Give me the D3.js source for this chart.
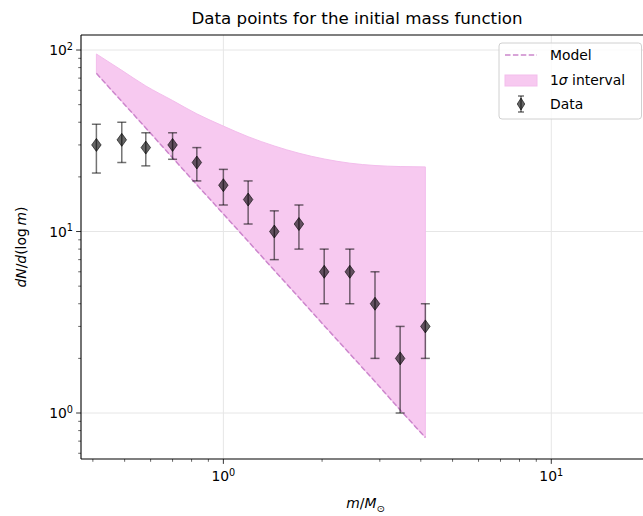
<!DOCTYPE html>
<html>
<head>
<meta charset="utf-8">
<script src="https://cdn.jsdelivr.net/npm/d3@7"></script>
<style>
  html, body { margin: 0; padding: 0; background: #fff; }
  svg { display: block; font-family: "DejaVu Sans", sans-serif; }
</style>
</head>
<body>
<svg id="chart" width="643" height="516"></svg>
<script>
// Stellar mass bins (solar masses)
const masses = [0.41, 0.49, 0.58, 0.70, 0.83, 1.00, 1.19, 1.43, 1.70, 2.03, 2.43, 2.90, 3.46, 4.13];
// Observed counts per log-mass bin and their uncertainties
const counts = [30, 32, 29, 30, 24, 18, 15, 10, 11, 6, 6, 4, 2, 3];
const countErrors = [9, 8, 6, 5, 5, 4, 4, 3, 3, 2, 2, 2, 1, 1];
// Power-law model evaluated at the bin masses
const model = [74.4, 52.1, 37.2, 25.5, 18.1, 12.5, 8.83, 6.11, 4.33, 3.03, 2.12, 1.49, 1.04, 0.733];
// Upper edge of the 1-sigma band (lower edge follows the model)
const bandUpper = [95.1, 77.3, 63.4, 52.7, 44.5, 38.1, 33.3, 29.6, 27.0, 25.1, 23.8, 23.1, 22.8, 22.7];
// Axis ticks
const xMajorTicks = [1, 10];
const yMajorTicks = [1, 10, 100];
const xTickLabels = ["0", "1"];
const yTickLabels = ["0", "1", "2"];

const svg = d3.select("#chart");
const plot = { left: 81, top: 35, right: 650, bottom: 459 };

const x = d3.scaleLog().domain([0.368, 20]).range([plot.left, plot.right]);
const y = d3.scaleLog().domain([0.558, 121]).range([plot.bottom, plot.top]);

const defs = svg.append("defs");
defs.append("clipPath").attr("id", "plotClip")
  .append("rect").attr("x", plot.left).attr("y", plot.top)
  .attr("width", plot.right - plot.left).attr("height", plot.bottom - plot.top);

// Grid
const grid = svg.append("g").attr("stroke", "#e6e6e6").attr("stroke-width", 1);
xMajorTicks.forEach(v => grid.append("line")
  .attr("x1", x(v)).attr("x2", x(v)).attr("y1", plot.top).attr("y2", plot.bottom));
yMajorTicks.forEach(v => grid.append("line")
  .attr("x1", plot.left).attr("x2", plot.right).attr("y1", y(v)).attr("y2", y(v)));

const body = svg.append("g").attr("clip-path", "url(#plotClip)");

// 1-sigma band
const area = d3.area()
  .x((d, i) => x(masses[i]))
  .y0((d, i) => y(model[i]))
  .y1((d, i) => y(bandUpper[i]))
  .curve(d3.curveMonotoneX);
body.append("path").datum(masses)
  .attr("d", area)
  .attr("fill", "#f7c9f0")
  .attr("stroke", "#f3bdec")
  .attr("stroke-width", 1);

// Model line
const line = d3.line().x((d, i) => x(masses[i])).y(d => y(d));
body.append("path").datum(model)
  .attr("d", line)
  .attr("fill", "none")
  .attr("stroke", "#cc86cc")
  .attr("stroke-width", 1.5)
  .attr("stroke-dasharray", "5.5,2.4");

// Error bars
const eb = body.append("g").attr("stroke", "#000").attr("stroke-opacity", 0.55).attr("stroke-width", 1.5);
masses.forEach((m, i) => {
  const cx = x(m);
  const lo = y(counts[i] - countErrors[i]);
  const hi = y(counts[i] + countErrors[i]);
  eb.append("line").attr("x1", cx).attr("x2", cx).attr("y1", lo).attr("y2", hi);
  eb.append("line").attr("x1", cx - 4.5).attr("x2", cx + 4.5).attr("y1", lo).attr("y2", lo);
  eb.append("line").attr("x1", cx - 4.5).attr("x2", cx + 4.5).attr("y1", hi).attr("y2", hi);
});

// Thin-diamond markers
function diamond(cx, cy, w, h) {
  return `M${cx},${cy - h / 2}L${cx + w / 2},${cy}L${cx},${cy + h / 2}L${cx - w / 2},${cy}Z`;
}
body.append("g").selectAll("path").data(masses).join("path")
  .attr("d", (m, i) => diamond(x(m), y(counts[i]), 9.5, 13))
  .attr("fill", "#000").attr("fill-opacity", 0.6)
  .attr("stroke", "#000").attr("stroke-opacity", 0.6).attr("stroke-width", 1);

// Axes spines (right edge lies outside the view)
const spine = svg.append("g").attr("stroke", "#000").attr("stroke-width", 1.1).attr("fill", "none");
spine.append("line").attr("x1", plot.left).attr("x2", plot.left).attr("y1", plot.top).attr("y2", plot.bottom);
spine.append("line").attr("x1", plot.left).attr("x2", plot.right).attr("y1", plot.bottom).attr("y2", plot.bottom);
spine.append("line").attr("x1", plot.left).attr("x2", plot.right).attr("y1", plot.top).attr("y2", plot.top);
spine.append("line").attr("x1", plot.right).attr("x2", plot.right).attr("y1", plot.top).attr("y2", plot.bottom);

// Ticks
function minorValues(scale) {
  const [a, b] = scale.domain();
  const out = [];
  for (let e = Math.floor(Math.log10(a)); e <= Math.ceil(Math.log10(b)); e++) {
    for (let k = 2; k <= 9; k++) {
      const v = k * Math.pow(10, e);
      if (v >= a && v <= b) out.push(v);
    }
  }
  return out;
}
const ticks = svg.append("g").attr("stroke", "#000").attr("stroke-width", 0.8);
xMajorTicks.forEach(v => ticks.append("line").attr("x1", x(v)).attr("x2", x(v))
  .attr("y1", plot.bottom).attr("y2", plot.bottom + 4.9));
minorValues(x).forEach(v => ticks.append("line").attr("x1", x(v)).attr("x2", x(v))
  .attr("y1", plot.bottom).attr("y2", plot.bottom + 2.8).attr("stroke-width", 0.6));
yMajorTicks.forEach(v => ticks.append("line").attr("y1", y(v)).attr("y2", y(v))
  .attr("x1", plot.left).attr("x2", plot.left - 4.9));
minorValues(y).forEach(v => ticks.append("line").attr("y1", y(v)).attr("y2", y(v))
  .attr("x1", plot.left).attr("x2", plot.left - 2.8).attr("stroke-width", 0.6));

// Tick labels as 10^n
const fs = 13.9;
function powLabel(g, exp) {
  g.append("tspan").text("10");
  g.append("tspan").attr("dy", -5.5).attr("font-size", fs * 0.7).text(exp);
}
xMajorTicks.forEach((v, i) => {
  const t = svg.append("text").attr("x", x(v)).attr("y", plot.bottom + 22)
    .attr("text-anchor", "middle").attr("font-size", fs).attr("fill", "#000");
  powLabel(t, xTickLabels[i]);
});
yMajorTicks.forEach((v, i) => {
  const t = svg.append("text").attr("x", plot.left - 8).attr("y", y(v) + 5)
    .attr("text-anchor", "end").attr("font-size", fs).attr("fill", "#000");
  powLabel(t, yTickLabels[i]);
});

// Axis labels
const xl = svg.append("text").attr("x", (plot.left + plot.right) / 2).attr("y", plot.bottom + 49)
  .attr("text-anchor", "middle").attr("font-size", fs).attr("fill", "#000");
xl.append("tspan").attr("font-style", "italic").text("m");
xl.append("tspan").text("/");
xl.append("tspan").attr("font-style", "italic").text("M");
xl.append("tspan").attr("dy", 3.5).attr("font-size", fs * 0.7).text("\u2299");

const yl = svg.append("text")
  .attr("transform", `translate(26,${(plot.top + plot.bottom) / 2}) rotate(-90)`)
  .attr("text-anchor", "middle").attr("font-size", fs).attr("fill", "#000");
yl.append("tspan").attr("font-style", "italic").text("dN");
yl.append("tspan").text("/");
yl.append("tspan").attr("font-style", "italic").text("d");
yl.append("tspan").text("(log\u2009");
yl.append("tspan").attr("font-style", "italic").text("m");
yl.append("tspan").text(")");

// Title
svg.append("text").attr("x", 357).attr("y", 24)
  .attr("text-anchor", "middle").attr("font-size", 16.7).attr("fill", "#000")
  .text("Data points for the initial mass function");

// Legend
const lg = svg.append("g").attr("transform", "translate(499,43)");
lg.append("rect").attr("x", 0).attr("y", 0).attr("width", 142.5).attr("height", 76)
  .attr("rx", 3).attr("fill", "#fff").attr("fill-opacity", 0.8)
  .attr("stroke", "#d0d0d0").attr("stroke-width", 1);
lg.append("line").attr("x1", 6).attr("x2", 38).attr("y1", 12).attr("y2", 12)
  .attr("stroke", "#cc86cc").attr("stroke-width", 1.5).attr("stroke-dasharray", "5.5,2.4");
lg.append("rect").attr("x", 6).attr("y", 32).attr("width", 32).attr("height", 11)
  .attr("fill", "#f7c9f0").attr("stroke", "#f3bdec");
lg.append("line").attr("x1", 22).attr("x2", 22).attr("y1", 53).attr("y2", 69)
  .attr("stroke", "#000").attr("stroke-opacity", 0.55).attr("stroke-width", 1.5);
lg.append("line").attr("x1", 19).attr("x2", 25).attr("y1", 53).attr("y2", 53)
  .attr("stroke", "#000").attr("stroke-opacity", 0.55).attr("stroke-width", 1.5);
lg.append("line").attr("x1", 19).attr("x2", 25).attr("y1", 69).attr("y2", 69)
  .attr("stroke", "#000").attr("stroke-opacity", 0.55).attr("stroke-width", 1.5);
lg.append("path").attr("d", diamond(22, 61, 7.5, 12))
  .attr("fill", "#000").attr("fill-opacity", 0.6)
  .attr("stroke", "#000").attr("stroke-opacity", 0.6);
const legendText = [["Model", 17], ["1\u03c3 interval", 42], ["Data", 66]];
legendText.forEach(([t, yy], i) => {
  const tx = lg.append("text").attr("x", 51).attr("y", yy).attr("font-size", fs).attr("fill", "#000");
  if (i === 1) {
    tx.append("tspan").text("1");
    tx.append("tspan").attr("font-style", "italic").text("\u03c3");
    tx.append("tspan").text(" interval");
  } else {
    tx.text(t);
  }
});
</script>
</body>
</html>
